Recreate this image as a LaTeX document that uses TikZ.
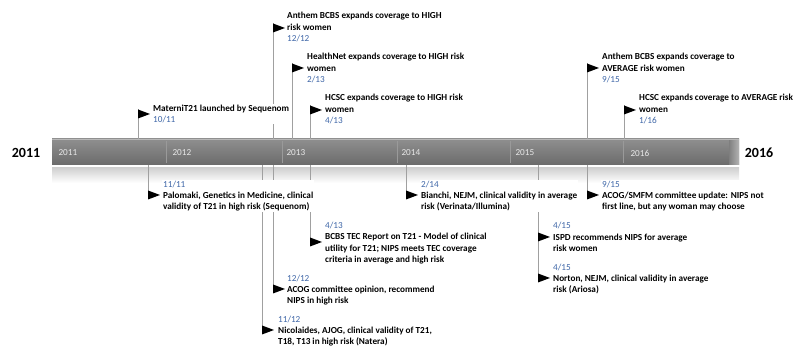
\documentclass[tikz,border=0pt]{standalone}
\usepackage{fontspec}
\setmainfont{Carlito}
\definecolor{stemgray}{HTML}{A0A0A0}
\definecolor{datecol}{HTML}{3F67A8}
\definecolor{yeartxt}{HTML}{E8E8E8}
\definecolor{sepgray}{HTML}{9A9A9A}
\newcommand{\dt}[1]{{\mdseries\color{datecol}#1}}
\begin{document}
\begin{tikzpicture}[x=1pt,y=-1pt,
  stem/.style={draw=stemgray, line width=0.7pt},
  flagmark/.style={fill=black},
  evt/.style={anchor=west, align=left, inner xsep=1pt, inner ysep=0.5pt, fill=white,
    font=\fontsize{9.2}{11.3}\selectfont\bfseries},
  yr/.style={anchor=west, text=yeartxt, font=\fontsize{9.2}{10}\selectfont},
  bigyr/.style={font=\fontsize{14}{16}\selectfont\bfseries}]
\useasboundingbox (0,0) rectangle (796,352);
% bar
\shade[top color=white!82!black, bottom color=white] (52,168) rectangle (739,183);
\shade[top color=black!44, bottom color=black!58] (52,139) rectangle (739,165);
\shade[left color=black!50, right color=black!30] (729,140) rectangle (739,165);
\draw[black!28, line width=0.8pt] (52,139.5) -- (739,139.5);
\foreach \sx in {166,282,397,510,623} \draw[sepgray, line width=0.6pt] (\sx,141) -- (\sx,163);
\node[yr] (y11) at (55,153) {2011};
\node[yr] (y12) at (169,153) {2012};
\node[yr] (y13) at (283,153) {2013};
\node[yr] (y14) at (398,153) {2014};
\node[yr] (y15) at (512,153) {2015};
\node[yr] (y16) at (627,153) {2016};
\node[bigyr] (big11) at (26,153) {2011};
\node[bigyr] (big16) at (759,153) {2016};
% bar edge coordinates
\coordinate (tA1) at (138,139); \coordinate (fA1) at (138,109.5);
\coordinate (tA2) at (273,139); \coordinate (fA2) at (273,23.5);
\coordinate (tA3) at (292,139); \coordinate (fA3) at (292,63.5);
\coordinate (tA4) at (310,139); \coordinate (fA4) at (310,105.5);
\coordinate (tA5) at (587,139); \coordinate (fA5) at (587,63.5);
\coordinate (tA6) at (624,139); \coordinate (fA6) at (624,105.5);
\coordinate (bB1) at (148,165); \coordinate (fB1) at (148,199.5);
\coordinate (bB2) at (310,165); \coordinate (fB2) at (310,246.5);
\coordinate (bB3) at (273,165); \coordinate (fB3) at (273,293.5);
\coordinate (bB4) at (262,165); \coordinate (fB4) at (262,334.5);
\coordinate (bB5) at (406,165); \coordinate (fB5) at (406,199.5);
\coordinate (bB6) at (587,165); \coordinate (fB6) at (587,199.5);
\coordinate (bB7) at (538,165); \coordinate (fB7) at (538,282.5);
\foreach \n in {A1,A2,A3,A4,A5,A6} \draw[stem] (f\n) -- (t\n);
\foreach \n in {B1,B2,B3,B4,B5,B6,B7} \draw[stem] (b\n) -- (f\n);
% flags (triangle centred at given y)
\foreach \fx/\fy in {138/114, 273/28, 292/68, 310/110, 587/68, 624/110,
                     148/195, 310/242, 273/289, 262/330, 406/195, 587/195, 538/237, 538/278}
  \fill[flagmark] (\fx,\fy-4.5) -- (\fx+12,\fy) -- (\fx,\fy+4.5) -- cycle;
% event texts above
\node[evt] (eA1) at (152,114) {MaterniT21 launched by Sequenom\\\dt{10/11}};
\node[evt] (eA2) at (286,27) {Anthem BCBS expands coverage to HIGH\\risk women\\\dt{12/12}};
\node[evt] (eA3) at (306,68) {HealthNet expands coverage to HIGH risk\\women\\\dt{2/13}};
\node[evt] (eA4) at (324,109) {HCSC expands coverage to HIGH risk\\women\\\dt{4/13}};
\node[evt] (eA5) at (601,68) {Anthem BCBS expands coverage to\\AVERAGE risk women\\\dt{9/15}};
\node[evt] (eA6) at (638,109) {HCSC expands coverage to AVERAGE risk\\women\\\dt{1/16}};
% event texts below
\node[evt] (eB1) at (162,196) {\dt{11/11}\\Palomaki, Genetics in Medicine, clinical\\validity of T21 in high risk (Sequenom)};
\node[evt] (eB2) at (324,243) {\dt{4/13}\\BCBS TEC Report on T21 - Model of clinical\\utility for T21; NIPS meets TEC coverage\\criteria in average and high risk};
\node[evt] (eB3) at (286,290) {\dt{12/12}\\ACOG committee opinion, recommend\\NIPS in high risk};
\node[evt] (eB4) at (277,331) {\dt{11/12}\\Nicolaides, AJOG, clinical validity of T21,\\T18, T13 in high risk (Natera)};
\node[evt] (eB5) at (420,196) {\dt{2/14}\\Bianchi, NEJM, clinical validity in average\\risk (Verinata/Illumina)};
\node[evt] (eB6) at (601,196) {\dt{9/15}\\ACOG/SMFM committee update: NIPS not\\first line, but any woman may choose};
\node[evt] (eB7) at (552,237) {\dt{4/15}\\ISPD recommends NIPS for average\\risk women};
\node[evt] (eB8) at (552,279) {\dt{4/15}\\Norton, NEJM, clinical validity in average\\risk (Ariosa)};
\end{tikzpicture}
\end{document}
